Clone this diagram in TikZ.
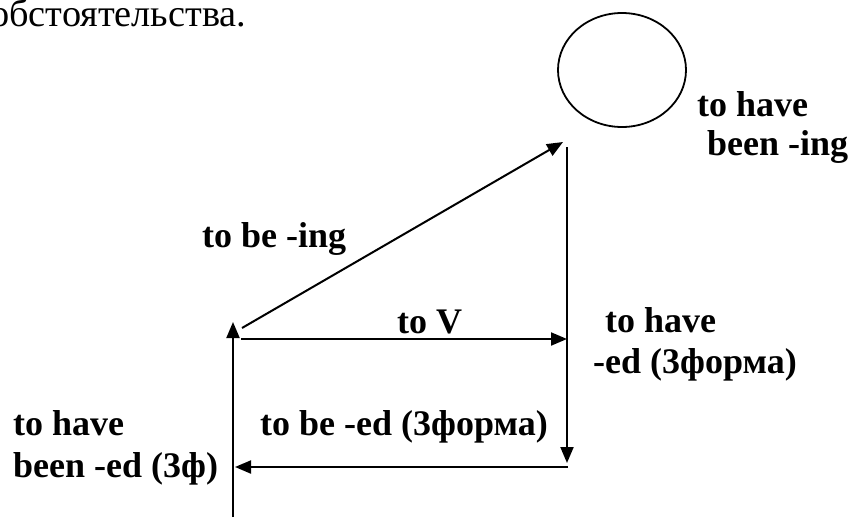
\documentclass[tikz,border=0pt]{standalone}
\usepackage{fontspec}
\setmainfont{Liberation Serif}
\usetikzlibrary{positioning, arrows.meta, shapes.geometric}

\begin{document}
\begin{tikzpicture}[
      x=1pt, y=-1pt,
      every node/.style={font=\fontsize{36}{40}\selectfont\bfseries, inner sep=0pt, anchor=base west},
      link/.style={line width=2pt, ->},
      >={Triangle[length=16pt, width=13pt]},
    ]
    \useasboundingbox (0,0) rectangle (851,517);

    % caption cut at the top
    \node[font=\fontsize{38.3}{42}\selectfont] (cap) at (-10,26) {обстоятельства.};

    % the ring
    \node[draw, ellipse, line width=1.8pt, minimum width=128pt, minimum height=114pt,
          anchor=center] (ring) at (622,70) {};

    % corners of the scheme
    \coordinate (lbot) at (233,517);
    \coordinate (ltop) at (233,322);
    \coordinate (dfrom) at (242,328);
    \coordinate (dto) at (563,142);
    \coordinate (vfrom) at (241,339);
    \coordinate (vto) at (567,339);
    \coordinate (rtop) at (567,147);
    \coordinate (rbot) at (567,463);
    \coordinate (bfrom) at (568,467);
    \coordinate (bto) at (235,467);

    \draw[link] (lbot) -- (ltop);
    \draw[link] (dfrom) -- (dto);
    \draw[link] (vfrom) -- (vto);
    \draw[link] (rtop) -- (rbot);
    \draw[link] (bfrom) -- (bto);

    % labels
    \node (hb1) at (697,116) {to have};
    \node (hb2) at (707,155) {been -ing};
    \node (bing) at (202,247) {to be -ing};
    \node (tov) at (397,333) {to V};
    \node (he1) at (605,332) {to have};
    \node (he2) at (593,373) {-ed (3форма)};
    \node (bed) at (260,435) {to be -ed (3форма)};
    \node (hbe1) at (13,435) {to have};
    \node (hbe2) at (13,477) {been -ed (3ф)};
  \end{tikzpicture}
\end{document}
